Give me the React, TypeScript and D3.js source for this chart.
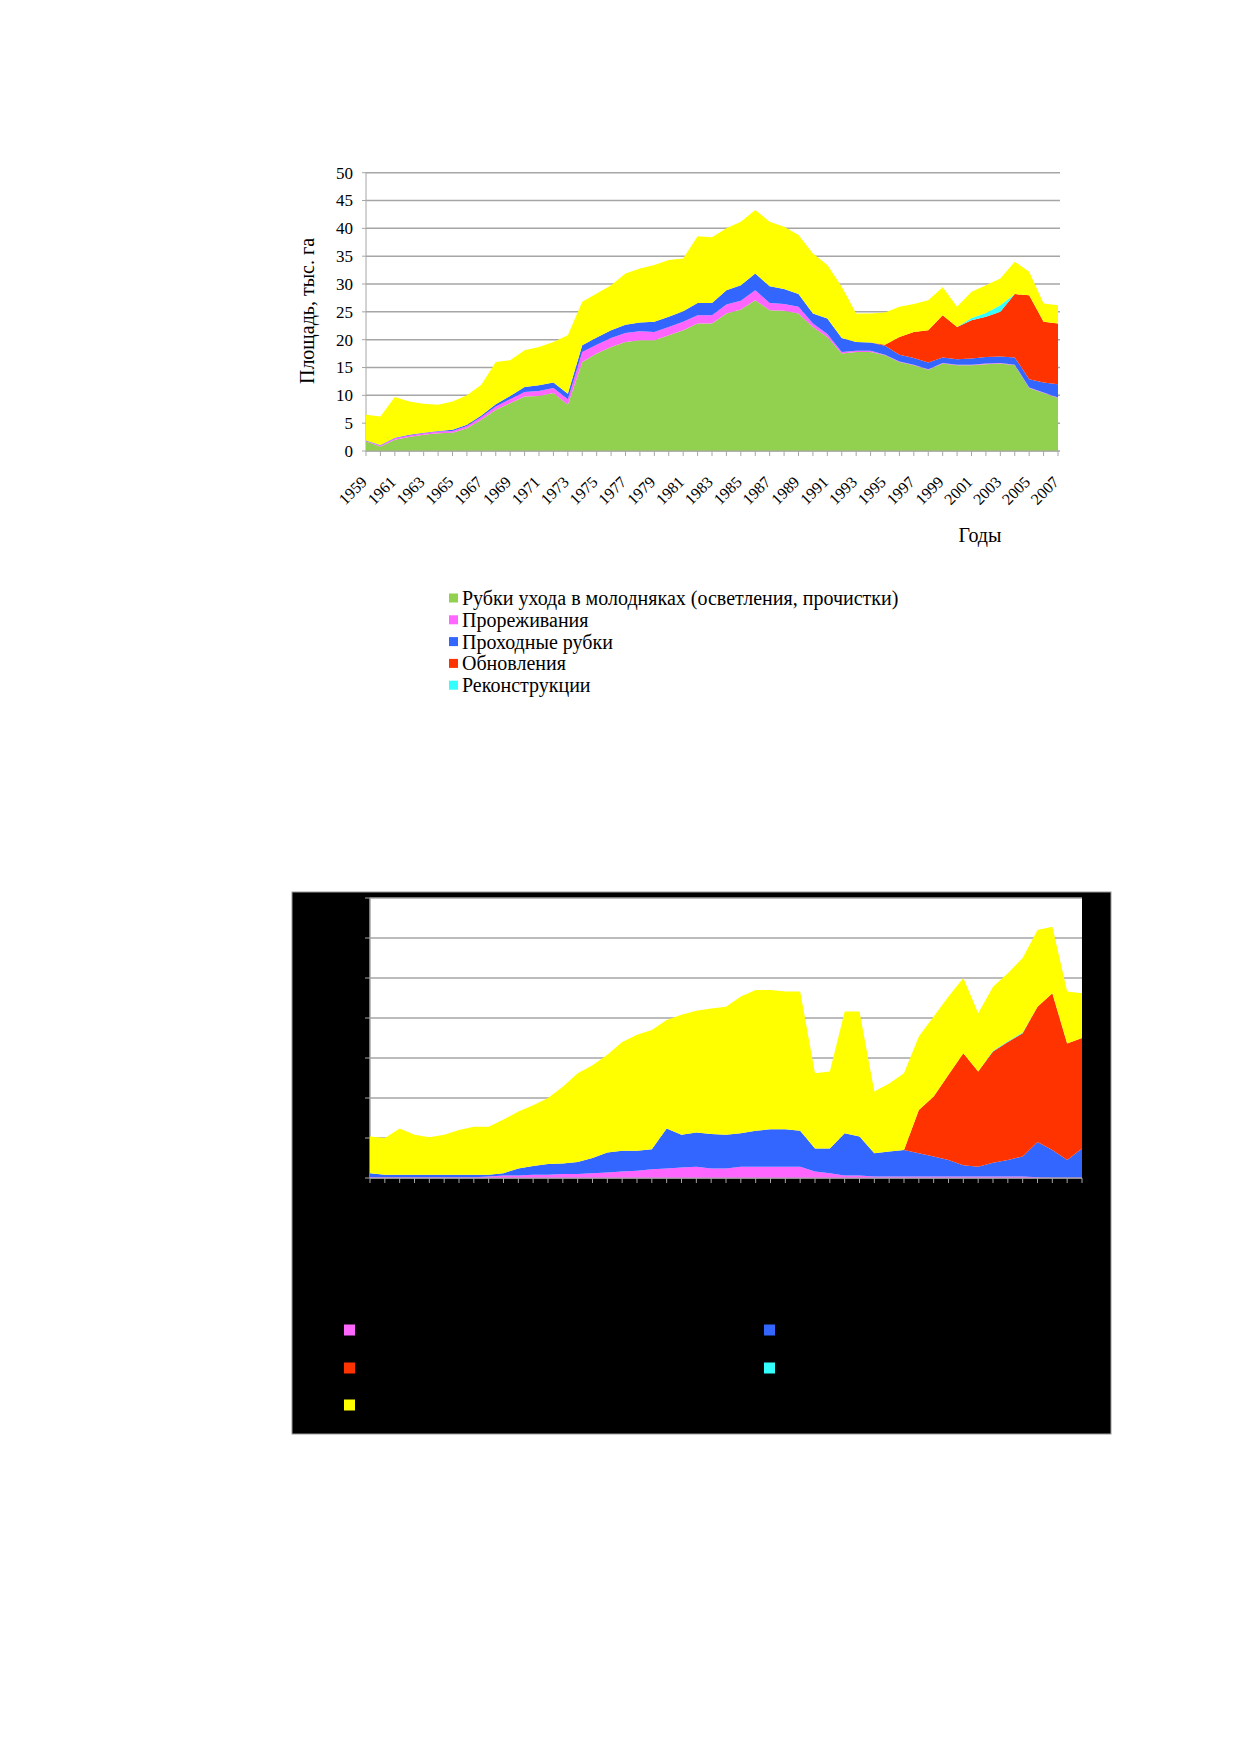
import * as d3 from "d3";

// ---- data (thousand ha) ----
const years = [
  1959, 1960, 1961, 1962, 1963, 1964, 1965, 1966, 1967, 1968, 1969, 1970,
  1971, 1972, 1973, 1974, 1975, 1976, 1977, 1978, 1979, 1980, 1981, 1982,
  1983, 1984, 1985, 1986, 1987, 1988, 1989, 1990, 1991, 1992, 1993, 1994,
  1995, 1996, 1997, 1998, 1999, 2000, 2001, 2002, 2003, 2004, 2005, 2006,
  2007,
];

// top chart
const youngStands = [
  1.7, 0.8, 2.0, 2.5, 2.9, 3.2, 3.3, 4.1, 5.6, 7.4, 8.6, 9.8, 9.9, 10.4, 8.3,
  16.0, 17.5, 18.7, 19.6, 19.9, 19.9, 20.8, 21.7, 22.9, 22.9, 24.7, 25.4, 27.1,
  25.3, 25.2, 24.7, 22.3, 20.5, 17.5, 17.8, 17.8, 17.2, 16.0, 15.4, 14.6, 15.7,
  15.4, 15.4, 15.6, 15.7, 15.4, 11.3, 10.4, 9.5,
];
const thinning = [
  0.1, 0.2, 0.3, 0.3, 0.3, 0.3, 0.3, 0.4, 0.5, 0.6, 0.7, 0.8, 0.9, 0.9, 1.0,
  1.8, 1.6, 1.6, 1.6, 1.6, 1.5, 1.5, 1.5, 1.5, 1.5, 1.6, 1.6, 1.8, 1.3, 1.2,
  1.2, 0.6, 0.5, 0.3, 0.2, 0.2, 0.1, 0.1, 0.1, 0.1, 0.1, 0.1, 0.1, 0.1, 0.1,
  0.1, 0.1, 0.1, 0.1,
];
const passCuts = [
  0.1, 0.1, 0.1, 0.1, 0.1, 0.1, 0.2, 0.2, 0.3, 0.4, 0.6, 0.9, 1.0, 1.0, 1.0,
  1.2, 1.3, 1.4, 1.5, 1.6, 1.8, 1.8, 1.9, 2.2, 2.2, 2.6, 2.8, 3.0, 3.0, 2.7,
  2.3, 1.8, 2.8, 2.5, 1.6, 1.5, 1.6, 1.2, 1.2, 1.2, 1.0, 1.0, 1.1, 1.2, 1.2,
  1.3, 1.5, 1.8, 2.4,
];
const renewal = [
  0, 0, 0, 0, 0, 0, 0, 0, 0, 0, 0, 0, 0, 0, 0, 0, 0, 0, 0, 0, 0, 0, 0, 0, 0, 0,
  0, 0, 0, 0, 0, 0, 0, 0, 0, 0, 0.2, 3.2, 4.7, 5.8, 7.6, 5.8, 6.9, 7.2, 8.0,
  11.4, 15.1, 10.9, 10.9,
];
const reconstruction = [
  0, 0, 0, 0, 0, 0, 0, 0, 0, 0, 0, 0, 0, 0, 0, 0, 0, 0, 0, 0, 0, 0, 0, 0, 0, 0,
  0, 0, 0, 0, 0, 0, 0, 0, 0, 0, 0, 0, 0, 0, 0, 0, 0.4, 0.7, 1.2, 0, 0, 0, 0,
];
const otherCuts = [
  4.6, 5.1, 7.3, 6.0, 5.2, 4.7, 5.1, 5.3, 5.5, 7.6, 6.4, 6.6, 6.9, 7.3, 10.5,
  7.8, 7.9, 8.1, 9.2, 9.7, 10.2, 10.2, 9.5, 12.0, 11.8, 11.1, 11.4, 11.4, 11.6,
  11.2, 10.6, 10.8, 9.6, 9.2, 5.1, 5.2, 5.8, 5.4, 5.0, 5.4, 5.0, 3.6, 4.7, 5.0,
  4.8, 5.8, 4.2, 3.3, 3.3,
];

// bottom chart
const thinning2 = [
  0.1, 0.1, 0.1, 0.1, 0.1, 0.1, 0.1, 0.1, 0.2, 0.3, 0.3, 0.4, 0.4, 0.5, 0.5,
  0.6, 0.7, 0.8, 0.9, 1.1, 1.2, 1.3, 1.4, 1.2, 1.2, 1.4, 1.4, 1.4, 1.4, 1.4,
  0.8, 0.6, 0.3, 0.3, 0.2, 0.2, 0.2, 0.2, 0.2, 0.2, 0.2, 0.2, 0.2, 0.2, 0.2,
  0.1, 0.05, 0.05, 0.05,
];
const passCuts2 = [
  0.5, 0.3, 0.3, 0.3, 0.3, 0.3, 0.3, 0.3, 0.2, 0.3, 0.9, 1.1, 1.35, 1.3, 1.5,
  1.9, 2.5, 2.6, 2.5, 2.5, 5.0, 4.1, 4.3, 4.3, 4.2, 4.2, 4.5, 4.7, 4.7, 4.5,
  2.9, 3.1, 5.3, 4.9, 2.9, 3.1, 3.3, 2.9, 2.5, 2.05, 1.4, 1.2, 1.7, 2.05, 2.5,
  4.4, 3.45, 2.2, 3.65,
];
const renewal2 = [
  0, 0, 0, 0, 0, 0, 0, 0, 0, 0, 0, 0, 0, 0, 0, 0, 0, 0, 0, 0, 0, 0, 0, 0, 0, 0,
  0, 0, 0, 0, 0, 0, 0, 0, 0, 0, 0, 5.4, 7.5, 10.65, 14.0, 11.9, 13.9, 14.75,
  15.4, 16.9, 19.6, 14.55, 13.8,
];
const reconstruction2 = [
  0, 0, 0, 0, 0, 0, 0, 0, 0, 0, 0, 0, 0, 0, 0, 0, 0, 0, 0, 0, 0, 0, 0, 0, 0, 0,
  0, 0, 0, 0, 0, 0, 0, 0, 0, 0, 0, 0, 0, 0, 0, 0, 0.1, 0.1, 0.1, 0, 0, 0, 0,
];
const otherCuts2 = [
  4.6, 4.6, 5.8, 5.0, 4.7, 5.0, 5.6, 6.0, 6.0, 6.7, 7.1, 7.6, 8.25, 9.6, 11.1,
  11.6, 12.2, 13.6, 14.5, 14.9, 13.55, 15.0, 15.2, 15.7, 16.0, 17.1, 17.6, 17.4,
  17.2, 17.4, 9.4, 9.6, 15.2, 15.6, 7.7, 8.5, 9.6, 9.2, 10.0, 9.8, 9.4, 7.3,
  8.0, 8.5, 9.3, 9.6, 8.3, 6.5, 5.6,
];

const legendLabels = [
  "Рубки ухода в молодняках (осветления, прочистки)",
  "Прореживания",
  "Проходные рубки",
  "Обновления",
  "Реконструкции",
];
const yTicksTop = [0, 5, 10, 15, 20, 25, 30, 35, 40, 45, 50];
const yTicksBottom = [0, 5, 10, 15, 20, 25, 30, 35];

const COLORS: Record<string, string> = {
  young: "#92d050",
  thin: "#ff66ff",
  pass: "#3366ff",
  renew: "#ff3300",
  recon: "#33ffff",
  other: "#ffff00",
};

const FONT = "'Liberation Serif', 'Times New Roman', serif";
const GRID = "#a6a6a6";

function buildRows(keys: string[], series: number[][]) {
  return years.map((year, i) => {
    const row: Record<string, number> = { year };
    keys.forEach((k, j) => (row[k] = series[j][i]));
    return row;
  });
}

function TopChart() {
  const keys = ["young", "thin", "pass", "renew", "recon", "other"];
  const rows = buildRows(keys, [
    youngStands,
    thinning,
    passCuts,
    renewal,
    reconstruction,
    otherCuts,
  ]);
  const stacked = d3.stack<Record<string, number>>().keys(keys)(rows);

  const x = d3.scaleLinear().domain([1959, 2007]).range([366, 1058]);
  const y = d3.scaleLinear().domain([0, 50]).range([451, 172.7]);

  const area = d3
    .area<d3.SeriesPoint<Record<string, number>>>()
    .x((d) => x(d.data.year))
    .y0((d) => y(d[0]))
    .y1((d) => y(d[1]));

  return (
    <g>
      {yTicksTop.map((t) => (
        <g key={t}>
          <line x1={x(1959)} x2={1060} y1={y(t)} y2={y(t)} stroke={GRID} strokeWidth={1.5} />
          <line x1={x(1959) - 4} x2={x(1959)} y1={y(t)} y2={y(t)} stroke={GRID} />
          <text
            x={353}
            y={y(t)}
            dy="0.35em"
            textAnchor="end"
            fontSize={17}
            fontFamily={FONT}
            fill="#000"
          >
            {t}
          </text>
        </g>
      ))}
      <line x1={x(1959)} x2={x(1959)} y1={y(50)} y2={y(0)} stroke={GRID} />
      {stacked.map((s) => (
        <path key={s.key} d={area(s) ?? ""} fill={COLORS[s.key]} />
      ))}
      <line x1={x(1959)} x2={x(2007)} y1={y(0)} y2={y(0)} stroke={GRID} />
      {years.map((yr, i) => (
        <g key={yr}>
          <line x1={x(yr)} x2={x(yr)} y1={y(0)} y2={y(0) + 5} stroke={GRID} />
          {i % 2 === 0 && (
            <text
              transform={`translate(${x(yr) + 2},${483}) rotate(-45)`}
              textAnchor="end"
              fontSize={16}
              fontFamily={FONT}
              fill="#000"
            >
              {yr}
            </text>
          )}
        </g>
      ))}
      <text
        transform="translate(314,311) rotate(-90)"
        textAnchor="middle"
        fontSize={20}
        fontFamily={FONT}
        fill="#000"
      >
        Площадь, тыс. га
      </text>
      <text x={980} y={542} textAnchor="middle" fontSize={20} fontFamily={FONT} fill="#000">
        Годы
      </text>
      {legendLabels.map((label, i) => {
        const cy = 598 + i * 21.8;
        const key = keys[i];
        return (
          <g key={label}>
            <rect x={449} y={cy - 4.5} width={9} height={9} fill={COLORS[key]} />
            <text x={462} y={cy} dy="0.35em" fontSize={20} fontFamily={FONT} fill="#000">
              {label}
            </text>
          </g>
        );
      })}
    </g>
  );
}

function BottomChart() {
  const keys = ["thin", "pass", "renew", "recon", "other"];
  const rows = buildRows(keys, [
    thinning2,
    passCuts2,
    renewal2,
    reconstruction2,
    otherCuts2,
  ]);
  const stacked = d3.stack<Record<string, number>>().keys(keys)(rows);

  const x = d3.scaleLinear().domain([1959, 2007]).range([370, 1082]);
  const y = d3.scaleLinear().domain([0, 35]).range([1178, 898]);

  const area = d3
    .area<d3.SeriesPoint<Record<string, number>>>()
    .x((d) => x(d.data.year))
    .y0((d) => y(d[0]))
    .y1((d) => y(d[1]));

  // legend layout: two columns, three rows
  const legendPos = [
    { key: "thin", x: 344, y: 1330 },
    { key: "pass", x: 764, y: 1330 },
    { key: "renew", x: 344, y: 1368 },
    { key: "recon", x: 764, y: 1368 },
    { key: "other", x: 344, y: 1405 },
  ];

  return (
    <g>
      <rect x={292} y={892} width={819} height={542} fill="#000" stroke="#9a9a9a" strokeWidth={1} />
      <rect x={x(1959)} y={y(35)} width={x(2007) - x(1959)} height={y(0) - y(35)} fill="#fff" />
      {yTicksBottom.map((t) => (
        <g key={t}>
          <line x1={x(1959)} x2={x(2007)} y1={y(t)} y2={y(t)} stroke={GRID} strokeWidth={1.5} />
          <line x1={x(1959) - 5} x2={x(1959)} y1={y(t)} y2={y(t)} stroke={GRID} />
        </g>
      ))}
      <line x1={x(1959)} x2={x(1959)} y1={y(35)} y2={y(0)} stroke={GRID} strokeWidth={1.5} />
      {stacked.map((s) => (
        <path key={s.key} d={area(s) ?? ""} fill={COLORS[s.key]} />
      ))}
      <line x1={x(1959)} x2={x(2007)} y1={y(0)} y2={y(0)} stroke={GRID} />
      {years.map((yr) => (
        <line key={yr} x1={x(yr)} x2={x(yr)} y1={y(0)} y2={y(0) + 5} stroke={GRID} />
      ))}
      {legendPos.map((p) => (
        <rect key={p.key} x={p.x} y={p.y - 5.5} width={11} height={11} fill={COLORS[p.key]} />
      ))}
    </g>
  );
}

export default function App() {
  return (
    <div style={{ position: "absolute", left: 0, top: 0, width: 1239, height: 1752, background: "#fff" }}>
      <svg width={1239} height={1752} style={{ display: "block" }}>
        <rect width={1239} height={1752} fill="#fff" />
        <TopChart />
        <BottomChart />
      </svg>
    </div>
  );
}
